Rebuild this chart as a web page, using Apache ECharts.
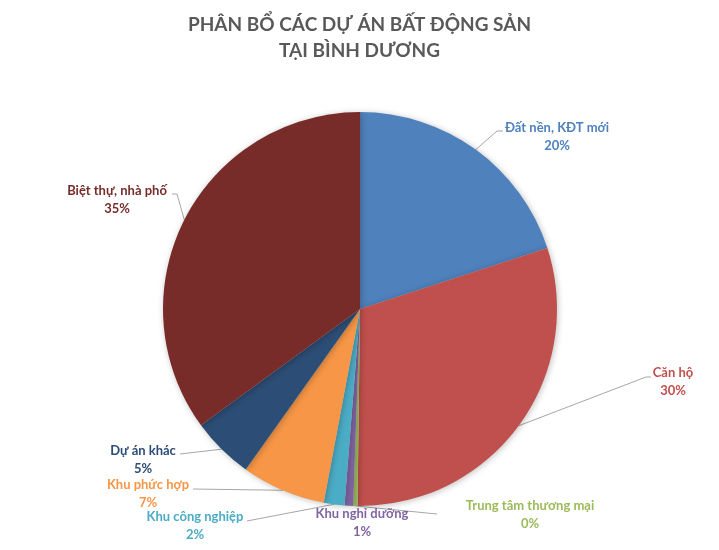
<!DOCTYPE html>
<html>
<head>
<meta charset="utf-8">
<script src="https://cdn.jsdelivr.net/npm/echarts@6/dist/echarts.min.js"></script>
<style>html,body{margin:0;padding:0;background:#fff}#c{width:719px;height:550px}</style>
</head>
<body>
<div id="c"></div>
<script>
var categories = ['Đất nền, KĐT mới', 'Căn hộ', 'Trung tâm thương mại', 'Khu nghỉ dưỡng', 'Khu công nghiệp', 'Khu phức hợp', 'Dự án khác', 'Biệt thự, nhà phố'];
var values = [20.0, 30.2, 0.35, 0.7, 1.7, 6.9, 5.1, 35.05];
var colors = ['#4F81BD', '#C0504D', '#9BBB59', '#8064A2', '#4BACC6', '#F79646', '#2C4D75', '#772C2A'];

// label placement (text block centre, leader elbow, leader end)
var labelPlaces = [
  {x: 557, y: 137, elbow: [497, 131], end: [503, 131]},
  {x: 673, y: 382, elbow: [646, 377], end: [651, 377]},
  {x: 530, y: 515, elbow: [437, 514], end: [437, 514]},
  {x: 362, y: 523, elbow: null, end: null},
  {x: 195, y: 526, elbow: [247, 521], end: [247, 521]},
  {x: 148, y: 494, elbow: [193, 489], end: [193, 489]},
  {x: 143, y: 460, elbow: [180, 454], end: [180, 454]},
  {x: 117, y: 200, elbow: [177, 194], end: [172, 194]}
];

var chart = echarts.init(document.getElementById('c'));
var data = categories.map(function (n, i) {
  return {
    name: n, value: values[i],
    itemStyle: {color: colors[i]},
    label: {color: colors[i]},
    labelLine: {show: labelPlaces[i].elbow !== null}
  };
});
chart.setOption({
  animation: false,
  title: {
    text: 'PHÂN BỔ CÁC DỰ ÁN BẤT ĐỘNG SẢN\nTẠI BÌNH DƯƠNG',
    left: 'center', top: 7,
    textStyle: {fontFamily: 'Lato', fontWeight: 'bold', fontSize: 19, color: '#595959', lineHeight: 26}
  },
  series: [{
    type: 'pie',
    center: [360, 309],
    radius: 197,
    startAngle: 90,
    clockwise: true,
    avoidLabelOverlap: false,
    data: data,
    itemStyle: {shadowBlur: 6, shadowColor: 'rgba(0,0,0,0.25)', shadowOffsetX: 1, shadowOffsetY: 1},
    label: {
      show: true, position: 'outside',
      fontFamily: 'Lato', fontWeight: 'bold', fontSize: 13, lineHeight: 18,
      formatter: function (p) { return p.name + '\n' + Math.round(p.percent) + '%'; }
    },
    labelLine: {show: true, length: 10, length2: 10, lineStyle: {color: '#A6A6A6', width: 1}},
    labelLayout: function (params) {
      var lp = labelPlaces[params.dataIndex];
      var res = {x: lp.x, y: lp.y, align: 'center', verticalAlign: 'middle'};
      if (lp.elbow && params.labelLinePoints) {
        res.labelLinePoints = [params.labelLinePoints[0], lp.elbow, lp.end];
      }
      return res;
    },
    emphasis: {disabled: true}
  }]
});
</script>
</body>
</html>
